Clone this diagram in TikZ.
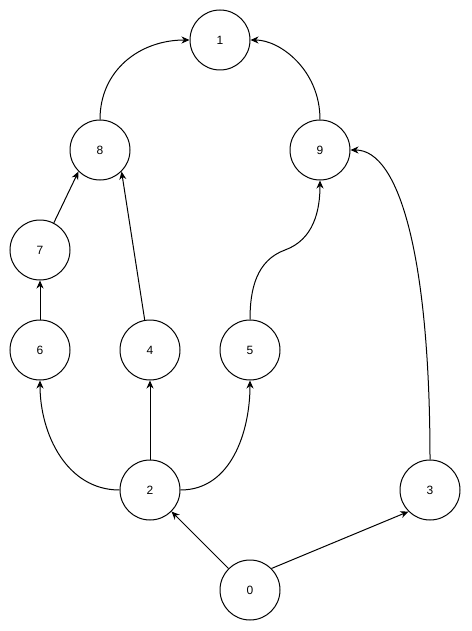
\documentclass[tikz,border=0pt]{standalone}
\usepackage{fontspec}
\setmainfont{Liberation Sans}
\usetikzlibrary{arrows.meta}
\begin{document}
\begin{tikzpicture}[x=1pt,y=-1pt,
  vtx/.style={circle,draw,line width=1pt,minimum size=60pt,inner sep=0pt,font=\fontsize{12pt}{14pt}\selectfont},
  edge/.style={line width=1pt,-{Stealth[length=8pt,width=7pt,inset=2.5pt]}}]
\useasboundingbox (0,0) rectangle (471,631);
\node[vtx] (n1) at (220,40) {1};
\node[vtx] (n8) at (100,150) {8};
\node[vtx] (n9) at (320,150) {9};
\node[vtx] (n7) at (40,250) {7};
\node[vtx] (n6) at (40,350) {6};
\node[vtx] (n4) at (150,350) {4};
\node[vtx] (n5) at (250,350) {5};
\node[vtx] (n2) at (150,490) {2};
\node[vtx] (n3) at (430,490) {3};
\node[vtx] (n0) at (250,590) {0};
\coordinate (m59) at (285,250);
\draw[edge] (n8.north) .. controls (100,70) and (140,40) .. (n1.west);
\draw[edge] (n9.north) .. controls (320,70) and (280,40) .. (n1.east);
\draw[edge] (n7.63) -- (n8.south west);
\draw[edge] (n6.north) -- (n7.south);
\draw[edge] (n4.100) -- (n8.south east);
\draw[edge] (n5.north) to[out=90,in=200] (m59) to[out=20,in=-90] (n9.south);
\draw[edge] (n3.north) .. controls (430,260) and (400,150) .. (n9.east);
\draw[edge] (n2.west) to[out=180,in=-90] (n6.south);
\draw[edge] (n2.north) -- (n4.south);
\draw[edge] (n2.east) to[out=0,in=-90] (n5.south);
\draw[edge] (n0.north west) -- (n2.south east);
\draw[edge] (n0.north east) -- (n3.south west);
\end{tikzpicture}
\end{document}
